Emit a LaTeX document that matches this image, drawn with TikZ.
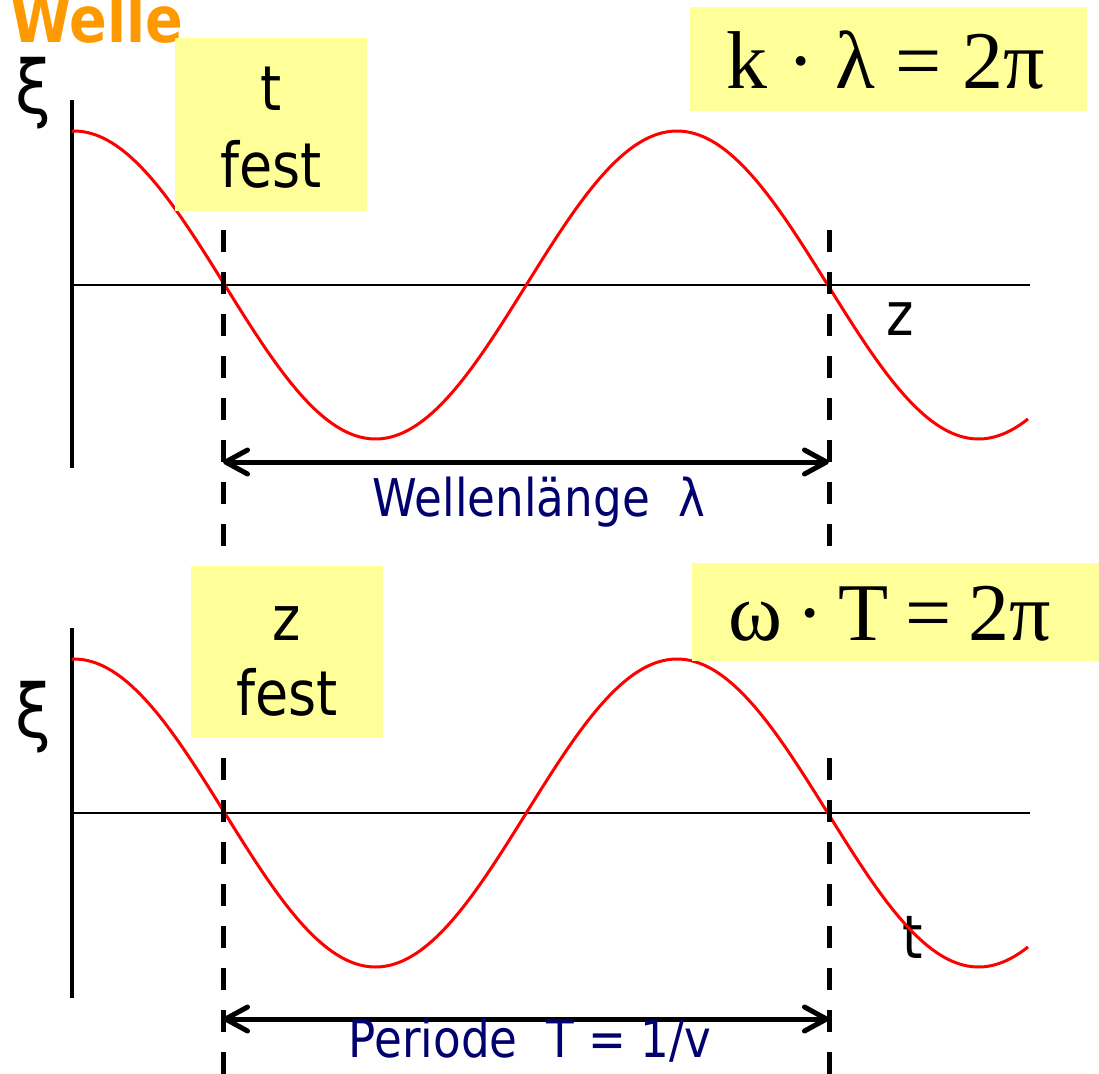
\documentclass[tikz,border=0pt]{standalone}
\usepackage{fontspec}
\setmainfont{DejaVu Sans}[FakeStretch=0.87]
\newfontfamily\tmsfont{Liberation Serif}
\usetikzlibrary{arrows.meta}
\definecolor{boxyellow}{HTML}{FFFF99}
\definecolor{wellorange}{HTML}{FF9900}
\definecolor{labelnavy}{RGB}{0,0,110}
\newcommand\setfsz[1]{\fontsize{#1}{#1}\selectfont}
\tikzset{
  ybox/.style={fill=boxyellow, draw=none, inner sep=0pt, anchor=north west},
  wave/.style={red, line width=3pt, line join=round},
  yaxis/.style={line width=4.5pt},
  zaxis/.style={line width=2.2pt},
  guide/.style={line width=5pt, dash pattern=on 22pt off 20pt},
  spanarrow/.style={line width=5pt,
    {Straight Barb[length=22pt,width=24pt,round]}-{Straight Barb[length=22pt,width=24pt,round]}},
  lbl/.style={inner sep=0pt, anchor=base},
  boxtext/.style={lbl, font=\setfsz{62}},
  axtext/.style={lbl, font=\setfsz{60}},
  formula/.style={inner sep=0pt, anchor=base west, font=\tmsfont\setfsz{82}},
  navytext/.style={lbl, text=labelnavy, font=\setfsz{52}},
}
\begin{document}
\begin{tikzpicture}[x=1pt,y=-1pt]
\useasboundingbox (0,0) rectangle (1099,1073);
% ---------- coordinates ----------
\coordinate (ya1) at (72,100);  \coordinate (yb1) at (72,468);
\coordinate (za1) at (72,285);  \coordinate (zb1) at (1030,285);
\coordinate (ya2) at (72,628);  \coordinate (yb2) at (72,998);
\coordinate (za2) at (72,813);  \coordinate (zb2) at (1030,813);
\coordinate (d1a) at (223,230); \coordinate (d1b) at (223,548);
\coordinate (d2a) at (829,230); \coordinate (d2b) at (829,548);
\coordinate (d3a) at (223,758); \coordinate (d3b) at (223,1080);
\coordinate (d4a) at (829,758); \coordinate (d4b) at (829,1080);
\coordinate (la) at (223,462);  \coordinate (lb) at (829,462);
\coordinate (pa) at (223,1019); \coordinate (pb) at (829,1019);
% ---------- title ----------
\node[inner sep=0pt, anchor=base west, text=wellorange, font=\bfseries\setfsz{64}] (title) at (10,42) {Welle};
% ---------- axes ----------
\draw[yaxis] (ya1) -- (yb1);
\draw[zaxis] (za1) -- (zb1);
\draw[yaxis] (ya2) -- (yb2);
\draw[zaxis] (za2) -- (zb2);
\node[inner sep=0pt, font=\setfsz{74}] (xi1) at (33,93) {ξ};
\node[inner sep=0pt, font=\setfsz{74}] (xi2) at (33,717) {ξ};
\node[axtext] (zlab) at (900,335) {z};
\node[axtext] (tlab) at (913,958) {t};
% ---------- waves ----------
\draw[wave] plot[domain=72:1028, samples=240] (\x, {285-154*cos(0.59701*(\x-74))});
\draw[wave] plot[domain=72:1028, samples=240] (\x, {813-154*cos(0.59701*(\x-74))});
% ---------- boxes ----------
\node[ybox, minimum width=192pt, minimum height=173pt] (tbox) at (175,38) {};
\node[ybox, minimum width=397pt, minimum height=104pt] (kbox) at (690,7) {};
\node[ybox, minimum width=192pt, minimum height=172pt] (zbox) at (191,566) {};
\node[ybox, minimum width=407pt, minimum height=98pt] (wbox) at (692,563) {};
\node[boxtext] (tfix) at (271,110) {t};
\node[boxtext] (tfest) at (271,187) {fest};
\node[boxtext] (zfix) at (287,640) {z};
\node[boxtext] (zfest) at (287,715) {fest};
\node[formula] (kform) at (726,88) {k · λ = 2π};
\node[formula] (wform) at (728,640) {ω\hspace{0.18em}·\hspace{0.18em}T\hspace{0.2em}=\hspace{0.2em}2π};
% ---------- guides ----------
\draw[guide] (d1a) -- (d1b);
\draw[guide] (d2a) -- (d2b);
\draw[guide] (d3a) -- (d3b);
\draw[guide] (d4a) -- (d4b);
\draw[spanarrow] (la) -- (lb);
\draw[spanarrow] (pa) -- (pb);
\node[navytext] (wl) at (539,516) {Wellenlänge\ \ λ};
\node[navytext] (per) at (530,1057) {Periode\ \ T = 1/v};
\end{tikzpicture}
\end{document}
